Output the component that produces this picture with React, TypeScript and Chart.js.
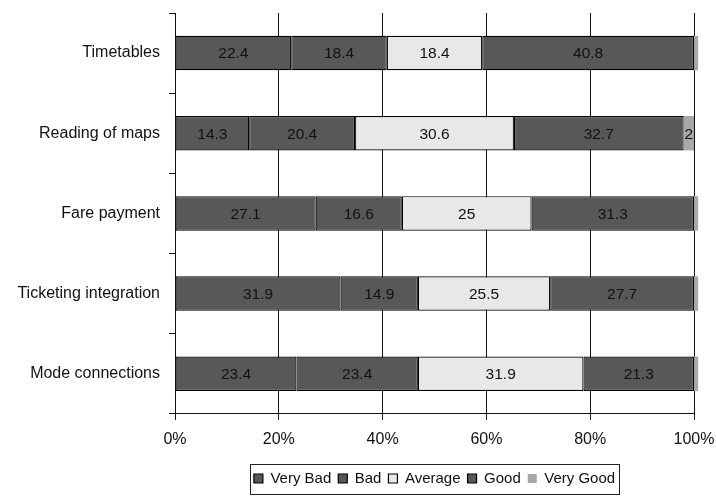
import React, { useEffect, useRef } from "react";
import { Chart, registerables } from "chart.js";

Chart.register(...registerables);

const CATEGORIES = [
  "Timetables",
  "Reading of maps",
  "Fare payment",
  "Ticketing integration",
  "Mode connections",
];
const SERIES_NAMES = ["Very Bad", "Bad", "Average", "Good", "Very Good"];
const VERY_BAD = [22.4, 14.3, 27.1, 31.9, 23.4];
const BAD = [18.4, 20.4, 16.6, 14.9, 23.4];
const AVERAGE = [18.4, 30.6, 25, 25.5, 31.9];
const GOOD = [40.8, 32.7, 31.3, 27.7, 21.3];
const VERY_GOOD = [0.8, 2, 0.8, 0.8, 0.8];
const X_TICK_STEP = 20;
const X_MAX = 100;

const FONT = "'Liberation Sans', Arial, Helvetica, sans-serif";
const DARK = "#585858";
const LIGHT = "#e8e8e8";
const MID = "#a8a8a8";
const INK = "#111111";

// Writes each segment's value in the middle of the segment.
const segmentLabels = {
  id: "segmentLabels",
  afterDatasetsDraw(chart: any) {
    const ctx = chart.ctx;
    ctx.save();
    ctx.font = `15.5px ${FONT}`;
    ctx.fillStyle = INK;
    ctx.textAlign = "center";
    ctx.textBaseline = "middle";
    chart.data.datasets.forEach((ds: any, di: number) => {
      const meta = chart.getDatasetMeta(di);
      meta.data.forEach((bar: any, i: number) => {
        const v = ds.data[i];
        if (v < 1) return;
        const { x, base, y } = bar.getProps(["x", "base", "y"], true);
        ctx.fillText(String(v), (x + base) / 2, y + 1);
      });
    });
    ctx.restore();
  },
};

// Centres the legend row under the plot area instead of the whole canvas.
const legendUnderPlot = {
  id: "legendUnderPlot",
  afterLayout(chart: any) {
    const lg = chart.legend;
    if (!lg) return;
    lg.left = chart.chartArea.left;
    lg.right = chart.chartArea.right;
    lg.width = lg.right - lg.left;
  },
};

// Frames the legend row with a thin box.
const legendFrame = {
  id: "legendFrame",
  afterDraw(chart: any) {
    const lg = chart.legend;
    if (!lg || !lg.legendHitBoxes || !lg.legendHitBoxes.length) return;
    const boxes = lg.legendHitBoxes;
    const left = Math.min(...boxes.map((b: any) => b.left)) - 4;
    const right = Math.max(...boxes.map((b: any) => b.left + b.width)) + 4;
    const cy = boxes[0].top + boxes[0].height / 2;
    const ctx = chart.ctx;
    ctx.save();
    ctx.strokeStyle = "#222";
    ctx.lineWidth = 1;
    ctx.strokeRect(Math.round(left) + 0.5, Math.round(cy - 15) + 0.5, Math.round(right - left), 30);
    ctx.restore();
  },
};

const noScalePadding = (s: any) => {
  s.paddingLeft = 0;
  s.paddingRight = 0;
  s.paddingTop = 0;
  s.paddingBottom = 0;
};

export default function App() {
  const canvasRef = useRef<HTMLCanvasElement | null>(null);

  useEffect(() => {
    if (!canvasRef.current) return;
    const fills = [DARK, DARK, LIGHT, DARK, MID];
    const values = [VERY_BAD, BAD, AVERAGE, GOOD, VERY_GOOD];
    const chart = new Chart(canvasRef.current, {
      type: "bar",
      data: {
        labels: CATEGORIES,
        datasets: SERIES_NAMES.map((name, k) => ({
          label: name,
          data: values[k],
          backgroundColor: fills[k],
          borderColor: k === 4 ? MID : "#000000",
          borderWidth: k === 4 ? 0 : 1.2,
          borderSkipped: false,
          barPercentage: 0.43,
          categoryPercentage: 1,
          clip: false as any,
        })),
      },
      plugins: [segmentLabels, legendUnderPlot, legendFrame],
      options: {
        indexAxis: "y",
        animation: false,
        responsive: false,
        maintainAspectRatio: false,
        layout: { padding: { left: 0, right: 22, top: 13, bottom: 7 } },
        font: { family: FONT },
        scales: {
          x: {
            stacked: true,
            min: 0,
            max: X_MAX,
            ticks: {
              stepSize: X_TICK_STEP,
              color: INK,
              font: { family: FONT, size: 16 },
              padding: 10,
              callback: (v: any) => `${v}%`,
              maxRotation: 0,
            },
            grid: {
              color: "#111",
              lineWidth: 1,
              tickLength: 6,
              drawOnChartArea: true,
              drawTicks: true,
            },
            border: { display: true, color: "#111", width: 1 },
            afterFit: (s: any) => {
              noScalePadding(s);
              s.height = s.height + 5;
            },
          },
          y: {
            stacked: true,
            ticks: {
              color: INK,
              font: { family: FONT, size: 16 },
              padding: 9,
            },
            grid: {
              color: "#111",
              offset: true,
              drawOnChartArea: false,
              drawTicks: true,
              tickLength: 6,
            },
            border: { display: true, color: "#111", width: 1 },
            afterFit: (s: any) => {
              noScalePadding(s);
              s.width = 175;
            },
          },
        },
        plugins: {
          legend: {
            position: "bottom",
            labels: {
              color: INK,
              font: { family: FONT, size: 15 },
              boxWidth: 9,
              boxHeight: 9,
              padding: 7,
            },
          },
          tooltip: { enabled: false },
        },
      },
    } as any);
    return () => chart.destroy();
  }, []);

  return (
    <div style={{ position: "fixed", left: 0, top: 0, width: 716, height: 503, background: "#fff" }}>
      <canvas ref={canvasRef} width={716} height={503} style={{ width: 716, height: 503 }} />
    </div>
  );
}
